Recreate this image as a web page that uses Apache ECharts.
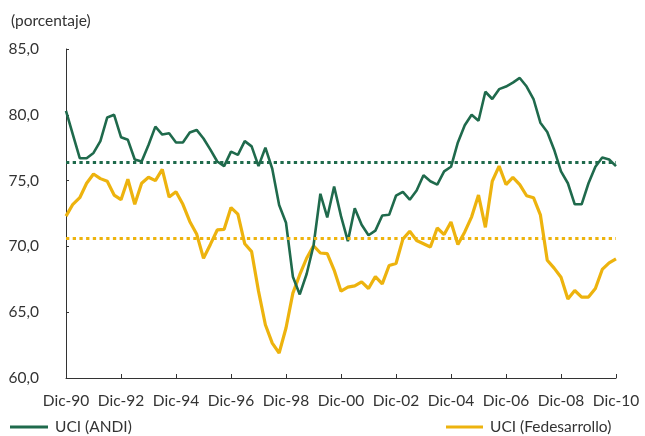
<!DOCTYPE html>
<html>
<head>
<meta charset="utf-8">
<script src="https://cdn.jsdelivr.net/npm/echarts@6/dist/echarts.min.js"></script>
<style>
  html, body { margin: 0; padding: 0; background: #ffffff; }
  #chart { width: 645px; height: 436px; }
</style>
</head>
<body>
<div id="chart"></div>
<script>
// Trimestres, diciembre 1990 - diciembre 2010
const quarters = [
  'Dic-90',
  'Mar-91','Jun-91','Sep-91','Dic-91',
  'Mar-92','Jun-92','Sep-92','Dic-92',
  'Mar-93','Jun-93','Sep-93','Dic-93',
  'Mar-94','Jun-94','Sep-94','Dic-94',
  'Mar-95','Jun-95','Sep-95','Dic-95',
  'Mar-96','Jun-96','Sep-96','Dic-96',
  'Mar-97','Jun-97','Sep-97','Dic-97',
  'Mar-98','Jun-98','Sep-98','Dic-98',
  'Mar-99','Jun-99','Sep-99','Dic-99',
  'Mar-00','Jun-00','Sep-00','Dic-00',
  'Mar-01','Jun-01','Sep-01','Dic-01',
  'Mar-02','Jun-02','Sep-02','Dic-02',
  'Mar-03','Jun-03','Sep-03','Dic-03',
  'Mar-04','Jun-04','Sep-04','Dic-04',
  'Mar-05','Jun-05','Sep-05','Dic-05',
  'Mar-06','Jun-06','Sep-06','Dic-06',
  'Mar-07','Jun-07','Sep-07','Dic-07',
  'Mar-08','Jun-08','Sep-08','Dic-08',
  'Mar-09','Jun-09','Sep-09','Dic-09',
  'Mar-10','Jun-10','Sep-10','Dic-10'
];

// Utilización de capacidad instalada (%)
const uciAndi = [
  80.3,
  78.5, 76.7, 76.7, 77.1,
  78.0, 79.8, 80.0, 78.3,
  78.1, 76.6, 76.45, 77.7,
  79.1, 78.5, 78.6, 77.9,
  77.9, 78.65, 78.85, 78.2,
  77.35, 76.45, 76.1, 77.2,
  76.95, 78.0, 77.6, 76.1,
  77.5, 75.9, 73.15, 71.8,
  67.7, 66.35, 67.9, 70.05,
  74.0, 72.2, 74.55, 72.3,
  70.4, 72.9, 71.65, 70.85,
  71.2, 72.35, 72.4, 73.85,
  74.15, 73.55, 74.25, 75.4,
  74.95, 74.7, 75.7, 76.05,
  77.9, 79.2, 80.0, 79.55,
  81.75, 81.2, 81.95, 82.15,
  82.45, 82.8, 82.15, 81.2,
  79.4, 78.7, 77.35, 75.7,
  74.8, 73.2, 73.2, 74.8,
  76.05, 76.75, 76.6, 76.1
];

const uciFedesarrollo = [
  72.3,
  73.2, 73.7, 74.8, 75.5,
  75.15, 74.95, 73.9, 73.55,
  75.1, 73.2, 74.8, 75.25,
  75.0, 75.85, 73.75, 74.15,
  73.2, 71.9, 70.95, 69.1,
  70.15, 71.25, 71.3, 72.95,
  72.45, 70.2, 69.6, 66.6,
  64.05, 62.65, 61.9, 63.8,
  66.45, 67.85, 69.1, 70.05,
  69.5, 69.45, 68.2, 66.6,
  66.9, 67.0, 67.3, 66.8,
  67.7, 67.15, 68.55, 68.7,
  70.55, 71.15, 70.45, 70.2,
  69.95, 71.4, 70.9, 71.85,
  70.15, 71.1, 72.25, 73.9,
  71.45, 74.95, 76.1, 74.7,
  75.25, 74.7, 73.85, 73.7,
  72.4, 68.95, 68.35, 67.65,
  66.0, 66.65, 66.15, 66.15,
  66.8, 68.25, 68.75, 69.05
];

// Promedios históricos de cada serie
const avgAndi = 76.42;
const avgFedesarrollo = 70.65;

// Marcas del eje vertical
const yTicks = [60, 65, 70, 75, 80, 85];

const GREEN = '#1f6a4c';
const YELLOW = '#edb30e';
const INK = '#333333';
const FONT = 'Lato, "Open Sans", sans-serif';
const FS = 15.5;

const chart = echarts.init(document.getElementById('chart'), null, { renderer: 'canvas' });

chart.setOption({
  animation: false,
  backgroundColor: '#ffffff',
  textStyle: { fontFamily: FONT, color: INK },
  title: {
    text: '(porcentaje)',
    left: 6,
    top: 8,
    textStyle: { fontFamily: FONT, fontSize: FS, fontWeight: 'normal', color: INK }
  },
  legend: [
    {
      data: ['UCI (ANDI)'],
      left: 5,
      top: 414,
      icon: 'rect',
      itemWidth: 38,
      itemHeight: 3,
      textStyle: { fontFamily: FONT, fontSize: FS, color: INK, padding: [0, 0, 0, 2] }
    },
    {
      data: ['UCI (Fedesarrollo)'],
      left: 441,
      top: 414,
      icon: 'rect',
      itemWidth: 37,
      itemHeight: 3,
      textStyle: { fontFamily: FONT, fontSize: FS, color: INK, padding: [0, 0, 0, 2] }
    }
  ],
  grid: { left: 66, right: 29, top: 49, bottom: 58, containLabel: false },
  xAxis: {
    type: 'category',
    data: quarters,
    boundaryGap: false,
    axisLine: { show: true, lineStyle: { color: INK, width: 1 } },
    axisTick: { show: true, inside: true, length: 4, interval: 7, lineStyle: { color: INK } },
    axisLabel: {
      interval: 7,
      margin: 15,
      fontFamily: FONT,
      fontSize: FS,
      color: INK
    },
    splitLine: { show: false }
  },
  yAxis: {
    type: 'value',
    min: yTicks[0],
    max: yTicks[yTicks.length - 1],
    interval: 5,
    axisLine: { show: true, lineStyle: { color: INK, width: 1 } },
    axisTick: { show: true, inside: true, length: 3, lineStyle: { color: INK } },
    axisLabel: {
      margin: 27,
      fontFamily: FONT,
      fontSize: FS,
      color: INK,
      formatter: v => v.toFixed(1).replace('.', ',')
    },
    splitLine: { show: false }
  },
  series: [
    {
      name: 'UCI (ANDI)',
      type: 'line',
      data: uciAndi,
      symbol: 'none',
      color: GREEN,
      lineStyle: { color: GREEN, width: 2.6 },
      z: 3,
      markLine: {
        silent: true,
        symbol: 'none',
        label: { show: false },
        lineStyle: { color: GREEN, width: 3, type: [3.3, 3.4], cap: 'butt' },
        data: [{ yAxis: avgAndi }]
      }
    },
    {
      name: 'UCI (Fedesarrollo)',
      type: 'line',
      data: uciFedesarrollo,
      symbol: 'none',
      color: YELLOW,
      lineStyle: { color: YELLOW, width: 3.2 },
      z: 2,
      markLine: {
        silent: true,
        symbol: 'none',
        label: { show: false },
        lineStyle: { color: YELLOW, width: 3, type: [3.3, 3.4], cap: 'butt' },
        data: [{ yAxis: avgFedesarrollo }]
      }
    }
  ]
});
</script>
</body>
</html>
